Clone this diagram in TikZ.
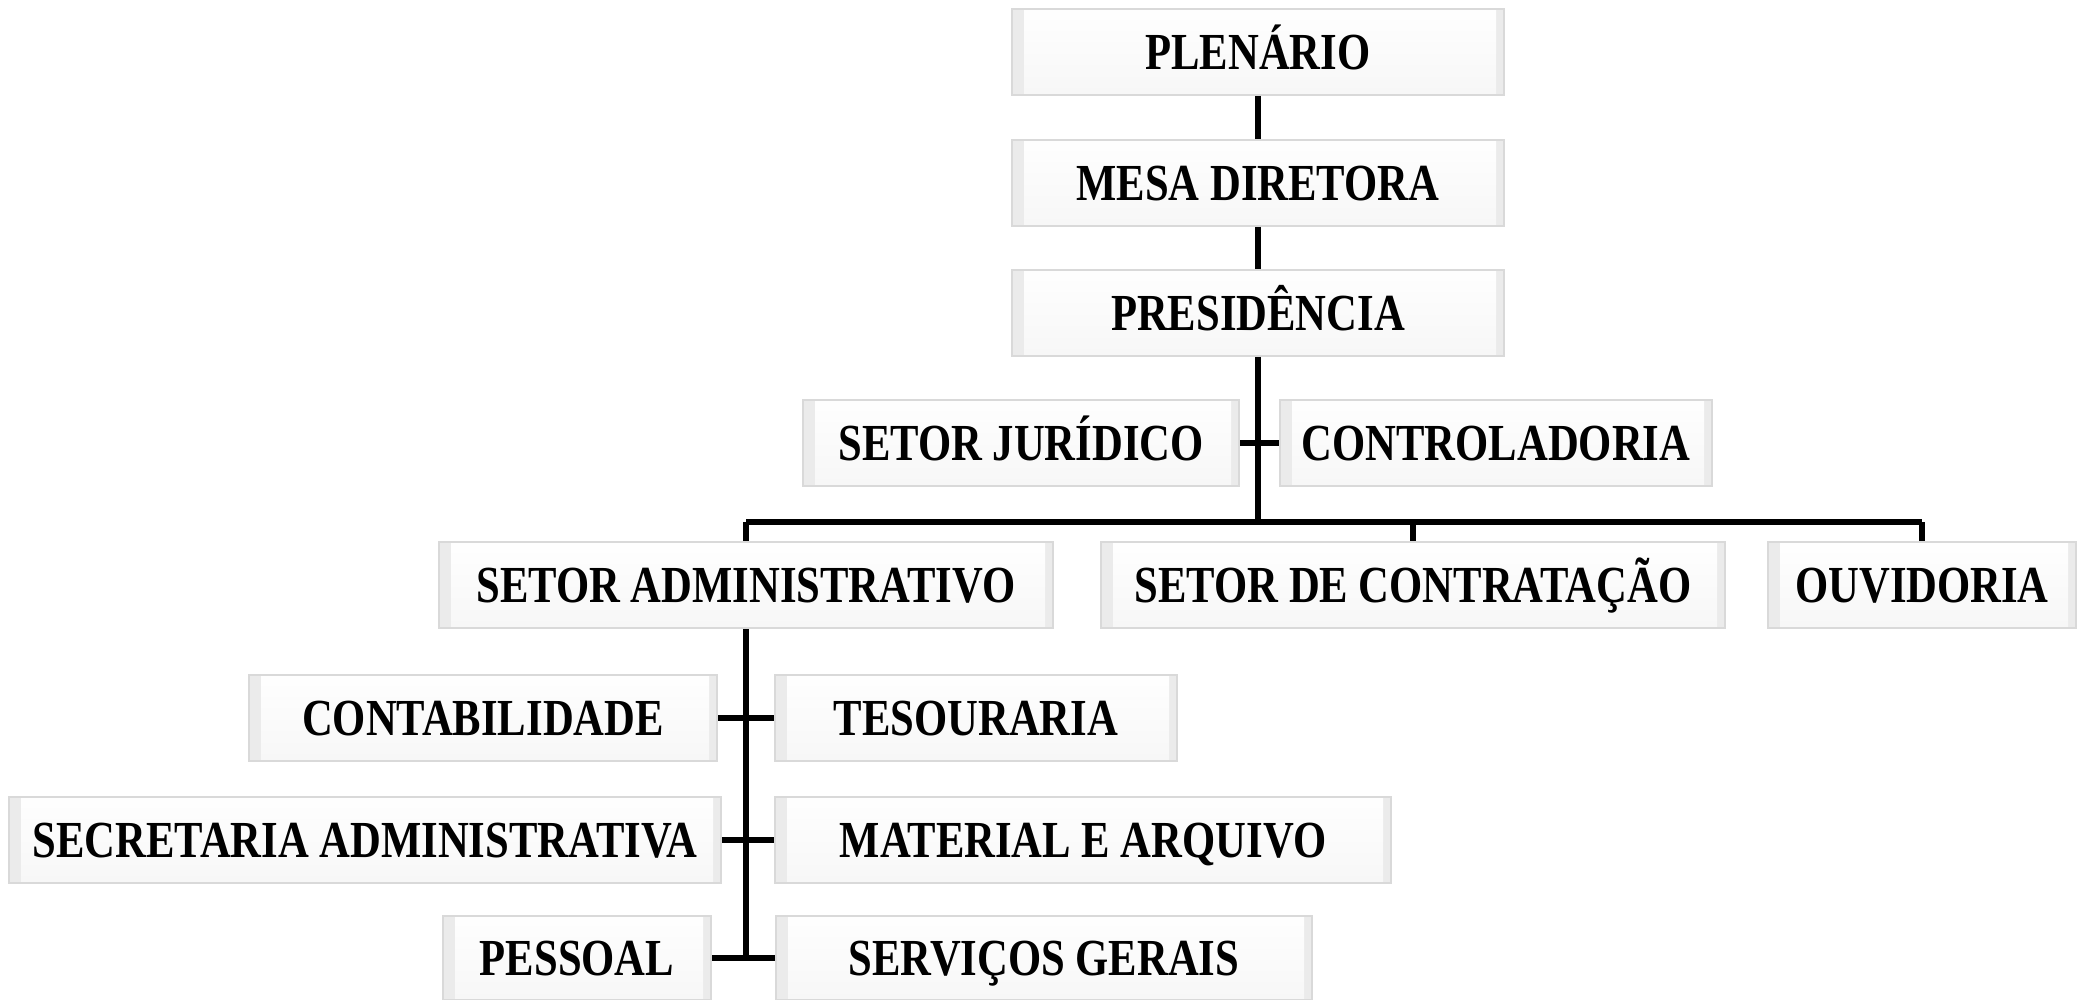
\documentclass[tikz,border=0pt]{standalone}
\usepackage{fontspec}
\setmainfont{Liberation Serif}[FakeStretch=0.82]

\tikzset{every picture/.style={line width=0.75pt}}
\tikzset{
  orgbox/.style={draw=gray!30, line width=1pt, fill=gray!16, inner sep=0pt,
    font=\fontsize{26}{30}\selectfont\bfseries, align=center,
    text height=17.5pt, text depth=0pt,
    path picture={
      \path (path picture bounding box.north west) ++(12,7) coordinate (pa)
            (path picture bounding box.south east) ++(-8,-9) coordinate (pb);
      \shade[top color=white, bottom color=gray!7] (pa) rectangle (pb);
      \draw[gray!28, line width=0.6pt] (path picture bounding box.north west) -- (pa)
            (path picture bounding box.south west) -- (pa |- pb)
            (path picture bounding box.south east) -- (pb)
            (path picture bounding box.north east) -- (pb |- pa);
    }},
  link/.style={line width=3pt, black}
}

\begin{document}
\begin{tikzpicture}[x=0.5pt,y=0.5pt,yscale=-1,xscale=1]
\useasboundingbox (0,0) rectangle (2084,1000);

% top chain
\node[orgbox, minimum width=246pt, minimum height=43pt] (plen) at (1258,52) {PLENÁRIO};
\node[orgbox, minimum width=246pt, minimum height=43pt] (mesa) at (1258,183) {MESA DIRETORA};
\node[orgbox, minimum width=246pt, minimum height=43pt] (pres) at (1258,313) {PRESIDÊNCIA};

% advisory
\node[orgbox, minimum width=218pt, minimum height=43pt] (jur) at (1021,443) {SETOR JURÍDICO};
\node[orgbox, minimum width=216pt, minimum height=43pt] (ctrl) at (1496,443) {CONTROLADORIA};

% sectors
\node[orgbox, minimum width=307pt, minimum height=43pt] (adm) at (746,585) {SETOR ADMINISTRATIVO};
\node[orgbox, minimum width=312pt, minimum height=43pt] (contr) at (1413,585) {SETOR DE CONTRATAÇÃO};
\node[orgbox, minimum width=154pt, minimum height=43pt] (ouv) at (1922,585) {OUVIDORIA};

% administrative units
\node[orgbox, minimum width=234pt, minimum height=43pt] (contab) at (483,718) {CONTABILIDADE};
\node[orgbox, minimum width=201pt, minimum height=43pt] (tes) at (976,718) {TESOURARIA};
\node[orgbox, minimum width=356pt, minimum height=43pt] (sec) at (365,840) {SECRETARIA ADMINISTRATIVA};
\node[orgbox, minimum width=308pt, minimum height=43pt] (mat) at (1083,840) {MATERIAL E ARQUIVO};
\node[orgbox, minimum width=134pt, minimum height=42pt] (pess) at (577,958) {PESSOAL};
\node[orgbox, minimum width=268pt, minimum height=42pt] (serv) at (1044,958) {SERVIÇOS GERAIS};

\coordinate (bus) at (1258,522);

% connectors
\draw[link] (plen) -- (mesa);
\draw[link] (mesa) -- (pres);
\draw[link] (pres) -- (bus);
\draw[link] (jur) -- (ctrl);
\draw[link] (adm.north |- bus) -- (ouv.north |- bus);
\draw[link] (adm.north |- bus) -- (adm.north);
\draw[link] (contr.north |- bus) -- (contr.north);
\draw[link] (ouv.north |- bus) -- (ouv.north);
\draw[link] (adm.south) -- (adm.south |- pess.east);
\draw[link] (contab) -- (tes);
\draw[link] (sec) -- (mat);
\draw[link] (pess) -- (serv);

\end{tikzpicture}
\end{document}
